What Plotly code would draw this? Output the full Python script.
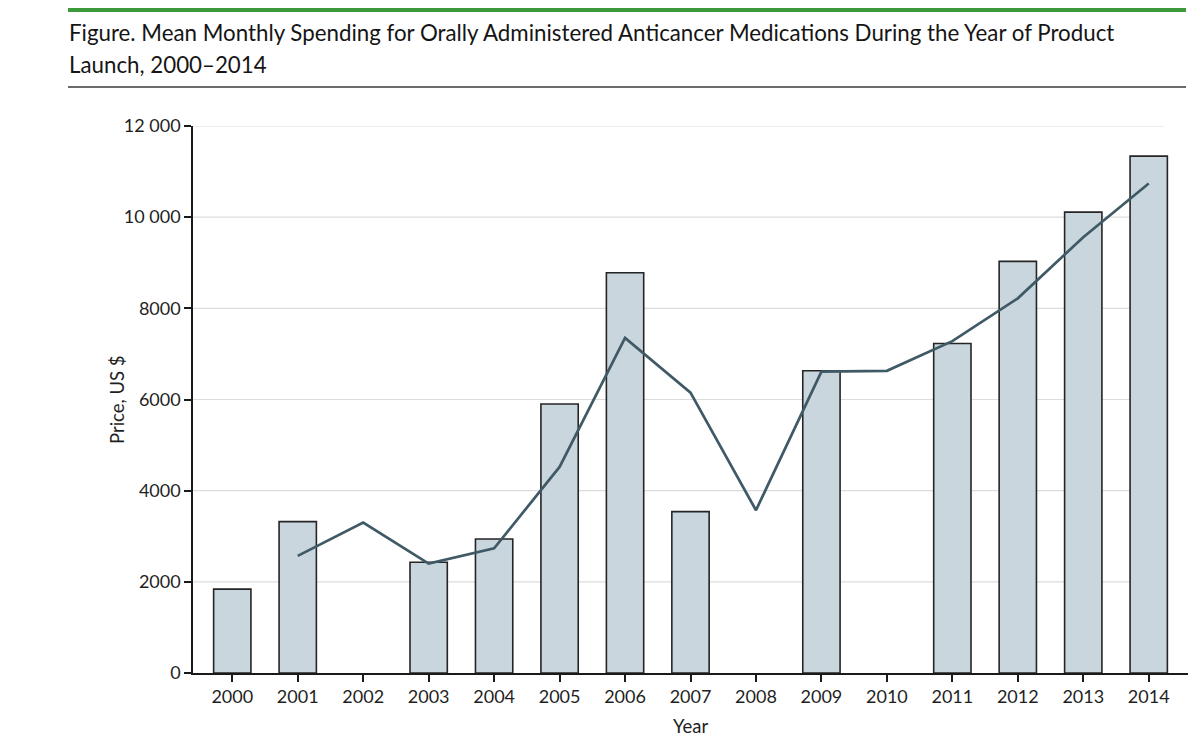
import plotly.graph_objects as go

years = ["2000", "2001", "2002", "2003", "2004", "2005", "2006", "2007",
         "2008", "2009", "2010", "2011", "2012", "2013", "2014"]
bar_values = [1840, 3320, None, 2430, 2940, 5900, 8780, 3540,
              None, 6630, None, 7230, 9030, 10110, 11340]
line_years = ["2001", "2002", "2003", "2004", "2005", "2006", "2007",
              "2008", "2009", "2010", "2011", "2012", "2013", "2014"]
line_values = [2570, 3300, 2400, 2735, 4520, 7350, 6150,
               3570, 6610, 6630, 7280, 8220, 9560, 10740]
y_tick_vals = [0, 2000, 4000, 6000, 8000, 10000, 12000]
y_tick_text = ["0", "2000", "4000", "6000", "8000", "10 000", "12 000"]

title_line1 = "Figure. Mean Monthly Spending for Orally Administered Anticancer Medications During the Year of Product"
title_line2 = "Launch, 2000\u20132014"

OFF = 8  # page body margin
W, H = 1200 - OFF, 746 - OFF
L = 193 - OFF
T = 126 - OFF
B = H - (673 - OFF)
R = W - (1188 - OFF)
pw, ph = W - L - R, H - T - B

def px_x(x):
    return (x - OFF - L) / pw

def px_y(y):
    return (H - B - (y - OFF)) / ph

font_main = "Lato"
txt = "#1f1f1f"

fig = go.Figure()
fig.add_trace(go.Bar(
    x=years, y=bar_values, width=0.57,
    marker=dict(color="#c9d6dd", line=dict(color="#252525", width=1.6)),
    showlegend=False, hoverinfo="x+y",
))
fig.add_trace(go.Scatter(
    x=line_years, y=line_values, mode="lines",
    line=dict(color="#3f5a66", width=2.7),
    showlegend=False,
))

shapes = []
for v in y_tick_vals[1:]:
    shapes.append(dict(type="line", xref="x", yref="y", x0=-0.6, x1=14.23,
                       y0=v, y1=v, line=dict(color="#dcdcdc", width=1.2),
                       layer="below"))
# green top bar
shapes.append(dict(type="rect", xref="paper", yref="paper",
                   x0=px_x(68), x1=px_x(1186), y0=px_y(12), y1=px_y(8),
                   fillcolor="#3c9a3a", line=dict(width=0)))
# rule under title
shapes.append(dict(type="line", xref="paper", yref="paper",
                   x0=px_x(68), x1=px_x(1186), y0=px_y(87), y1=px_y(87),
                   line=dict(color="#3a3a3a", width=1.6)))

annotations = [
    dict(text=title_line1, xref="paper", yref="paper", x=px_x(67), y=px_y(32),
         xanchor="left", yanchor="middle", showarrow=False,
         font=dict(family=font_main, size=22.3, color="#151515")),
    dict(text=title_line2, xref="paper", yref="paper", x=px_x(67), y=px_y(64),
         xanchor="left", yanchor="middle", showarrow=False,
         font=dict(family=font_main, size=22.3, color="#151515")),
    dict(text="Price, US $", xref="paper", yref="paper", x=px_x(117), y=px_y(400),
         xanchor="center", yanchor="middle", showarrow=False, textangle=-90,
         font=dict(family=font_main, size=18.5, color=txt)),
    dict(text="Year", xref="paper", yref="paper", x=px_x(690), y=px_y(726),
         xanchor="center", yanchor="middle", showarrow=False,
         font=dict(family=font_main, size=18.5, color=txt)),
]

fig.update_layout(
    width=W, height=H,
    margin=dict(l=L, r=R, t=T, b=B, pad=0),
    paper_bgcolor="white", plot_bgcolor="white",
    shapes=shapes, annotations=annotations,
    font=dict(family=font_main, size=18, color=txt),
)
fig.update_xaxes(
    type="category", range=[-0.6, 14.6],
    showline=True, linecolor="#1a1a1a", linewidth=1.5,
    ticks="outside", ticklen=7, tickwidth=1.5, tickcolor="#1a1a1a",
    showgrid=False, zeroline=False,
    tickfont=dict(family=font_main, size=18, color=txt),
)
fig.update_yaxes(
    range=[0, 12000],
    tickvals=y_tick_vals, ticktext=y_tick_text,
    showline=True, linecolor="#1a1a1a", linewidth=1.5,
    ticks="outside", ticklen=7, tickwidth=1.5, tickcolor="#1a1a1a",
    showgrid=False, zeroline=False,
    tickfont=dict(family=font_main, size=18, color=txt),
)

fig.write_html("out.html")
